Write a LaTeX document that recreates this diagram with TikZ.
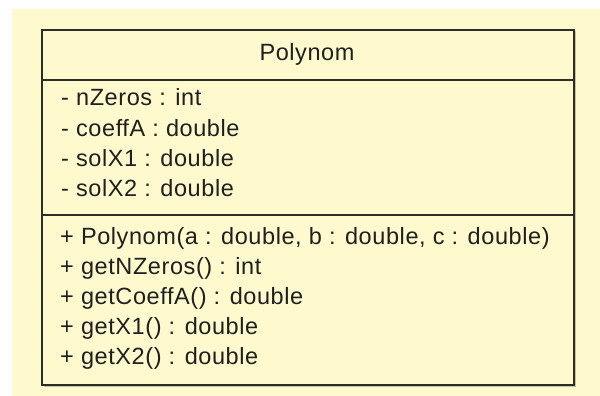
\documentclass[tikz,border=0pt]{standalone}
\usepackage{fontspec}
\setmainfont{Liberation Sans}[LetterSpace=2.5]
\definecolor{umlbg}{RGB}{255,249,206}
\definecolor{umlline}{RGB}{45,45,40}
\definecolor{umlshadow}{RGB}{200,196,160}
\begin{document}
\begin{tikzpicture}[x=1pt,y=-1pt,
  member/.style={anchor=base west,inner sep=0pt,font=\fontsize{23.5}{30}\selectfont,text=black!88},
  title/.style={anchor=base,inner sep=0pt,font=\fontsize{23.5}{30}\selectfont,text=black!88},
  sep/.style={draw=umlline,line width=2pt}]
\useasboundingbox (0,0) rectangle (600,396);
\fill[white] (0,0) rectangle (600,396);
\fill[umlbg] (12,9) rectangle (600,396);
% shadow
\fill[umlshadow] (43.5,31.5) rectangle (575.5,386.5);
\node[draw=umlline,fill=umlbg,line width=2pt,minimum width=532pt,minimum height=355pt,inner sep=0pt,anchor=north west] (cls) at (41,29) {};
\coordinate (s1l) at (41,80); \coordinate (s1r) at (573,80);
\coordinate (s2l) at (41,215); \coordinate (s2r) at (573,215);
\draw[sep] (s1l) -- (s1r);
\draw[sep] (s2l) -- (s2r);
\node[title] (name) at (307,61) {Polynom};
\node[member] (a1) at (61,106) {- nZeros : int};
\node[member] (a2) at (61,136) {- coeffA : double};
\node[member] (a3) at (61,166) {- solX1 : double};
\node[member] (a4) at (61,196) {- solX2 : double};
\node[member] (m1) at (60,244) {+ Polynom(a : double, b : double, c : double)};
\node[member] (m2) at (60,274) {+ getNZeros() : int};
\node[member] (m3) at (60,304) {+ getCoeffA() : double};
\node[member] (m4) at (60,334) {+ getX1() : double};
\node[member] (m5) at (60,364) {+ getX2() : double};
\end{tikzpicture}
\end{document}
